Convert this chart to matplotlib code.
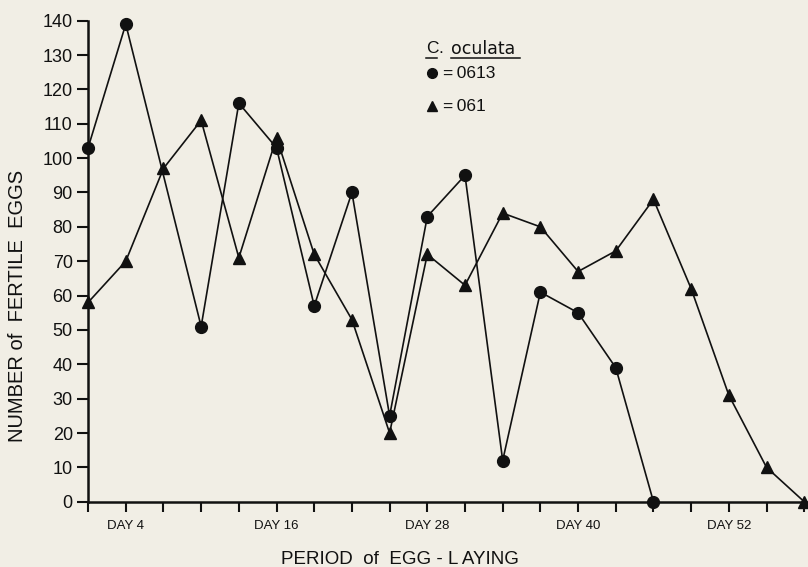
import matplotlib.pyplot as plt
from matplotlib.lines import Line2D

plt.rcParams['font.family'] = ['Liberation Sans', 'DejaVu Sans']

# 数据：产卵期（天）与受精卵数量
days_0613 = [1, 4, 10, 13, 16, 19, 22, 25, 28, 31, 34, 37, 40, 43, 46]
eggs_0613 = [103, 139, 51, 116, 103, 57, 90, 25, 83, 95, 12, 61, 55, 39, 0]

days_061 = [1, 4, 7, 10, 13, 16, 19, 22, 25, 28, 31, 34, 37, 40, 43, 46, 49, 52, 55, 58]
eggs_061 = [58, 70, 97, 111, 71, 106, 72, 53, 20, 72, 63, 84, 80, 67, 73, 88, 62, 31, 10, 0]

tick_days = list(range(1, 59, 3))
label_days = [4, 16, 28, 40, 52]
y_ticks = list(range(0, 141, 10))

bg = '#f1eee5'
ink = '#111111'
THIN = '\u2009'

fig = plt.figure(figsize=(8.08, 5.67), dpi=100, facecolor=bg)
ax = fig.add_axes([0.109, 0.1151, 0.891, 0.8484], facecolor=bg)

ax.plot(days_0613, eggs_0613, color=ink, lw=1.2, marker='o', ms=8.5, clip_on=False, zorder=3)
ax.plot(days_061, eggs_061, color=ink, lw=1.2, marker='^', ms=8, clip_on=False, zorder=3)

ax.set_xlim(1, 58.3)
ax.set_ylim(0, 140)

for s in ['top', 'right']:
    ax.spines[s].set_visible(False)
for s in ['left', 'bottom']:
    ax.spines[s].set_linewidth(1.8)
    ax.spines[s].set_color(ink)

ax.set_yticks(y_ticks)
ax.tick_params(axis='y', direction='out', length=8, width=1.5, labelsize=13, pad=3, colors=ink)
ax.set_xticks(tick_days)
ax.set_xticklabels([f'DAY {d}' if d in label_days else '' for d in tick_days])
ax.tick_params(axis='x', direction='out', length=7, width=1.5, labelsize=9.5, pad=6, colors=ink)

fig.text(0.0215, 0.46, 'NUMBER of  FERTILE  EGGS', rotation=90,
         fontsize=14.5, ha='center', va='center', color=ink)
fig.text(0.495, 0.0125, 'PERIOD  of  EGG - L AYING', fontsize=13.5,
         ha='center', va='center', color=ink)

# 图例
fig.text(0.527, 0.914, 'C', fontsize=12.5, ha='left', va='center', color=ink)
fig.text(0.543, 0.914, '.', fontsize=12.5, ha='left', va='center', color=ink)
fig.text(0.558, 0.914, 'oculata', fontsize=12.5, family=['DejaVu Sans'],
         ha='left', va='center', color=ink)
fig.add_artist(Line2D([0.527, 0.541], [0.897, 0.897], color=ink, lw=1.1))
fig.add_artist(Line2D([0.558, 0.644], [0.897, 0.897], color=ink, lw=1.1))
fig.add_artist(Line2D([0.535], [0.871], marker='o', ms=7, color=ink, lw=0))
fig.text(0.548, 0.871, '=' + THIN + '0613', fontsize=12.5, ha='left', va='center', color=ink)
fig.add_artist(Line2D([0.535], [0.813], marker='^', ms=7, color=ink, lw=0))
fig.text(0.548, 0.813, '=' + THIN + '061', fontsize=12.5, ha='left', va='center', color=ink)

fig.savefig('out.png', dpi=100, facecolor=bg)
